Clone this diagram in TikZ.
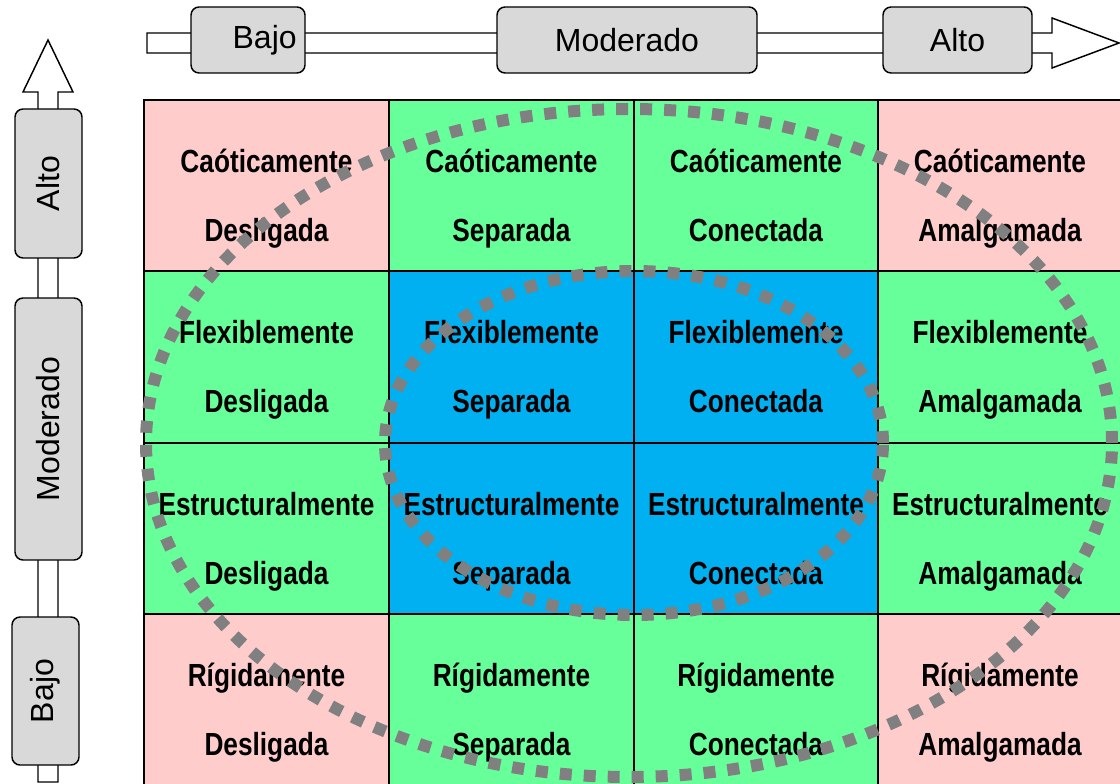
\documentclass[tikz,border=0pt]{standalone}
\usepackage{fontspec}
\setmainfont{Liberation Sans}
\newfontfamily\narrowfont[FakeStretch=0.82]{Liberation Sans}
\definecolor{pinkc}{HTML}{FFCCCC}
\definecolor{greenc}{HTML}{66FF99}
\definecolor{bluec}{HTML}{00B0F0}
\definecolor{boxgray}{HTML}{D9D9D9}
\definecolor{dotgray}{HTML}{808080}
\begin{document}
\begin{tikzpicture}[x=0.75pt,y=-0.75pt,
  cellrect/.style={draw=black,line width=1.5pt},
  celltext/.style={anchor=base,inner sep=0pt,font=\narrowfont\bfseries\fontsize{24}{28}\selectfont},
  axbar/.style={draw=black,fill=white,line width=1.1pt,line join=miter},
  axbox/.style={draw=black,fill=boxgray,line width=1.1pt,rounded corners=6pt,inner sep=0pt,font=\fontsize{24}{28}\selectfont},
  dotline/.style={draw=dotgray,line width=9pt,dash pattern=on 9pt off 9pt}]
\useasboundingbox (0,0) rectangle (1120,784);
% cells
\foreach \c/\xa/\xb/\ya/\yb in {
  pinkc/144/389/100/271, greenc/389/634/100/271, greenc/634/878/100/271, pinkc/878/1124/100/271,
  greenc/144/389/271/443, bluec/389/634/271/443, bluec/634/878/271/443, greenc/878/1124/271/443,
  greenc/144/389/443/614, bluec/389/634/443/614, bluec/634/878/443/614, greenc/878/1124/443/614,
  pinkc/144/389/614/788, greenc/389/634/614/788, greenc/634/878/614/788, pinkc/878/1124/614/788}
  {\fill[\c] (\xa,\ya) rectangle (\xb,\yb);}
\foreach \c/\xa/\xb/\ya/\yb in {
  pinkc/144/389/100/271, greenc/389/634/100/271, greenc/634/878/100/271, pinkc/878/1124/100/271,
  greenc/144/389/271/443, bluec/389/634/271/443, bluec/634/878/271/443, greenc/878/1124/271/443,
  greenc/144/389/443/614, bluec/389/634/443/614, bluec/634/878/443/614, greenc/878/1124/443/614,
  pinkc/144/389/614/788, greenc/389/634/614/788, greenc/634/878/614/788, pinkc/878/1124/614/788}
  {\draw[cellrect] (\xa,\ya) rectangle (\xb,\yb);}
% cell texts
\foreach \row/\top/\first in {0/100/Caóticamente,1/271/Flexiblemente,2/443/Estructuralmente,3/614/Rígidamente}{
  \foreach \col/\cx/\second in {0/266.5/Desligada,1/511.5/Separada,2/756/Conectada,3/1000/Amalgamada}{
    \node[celltext] (t\row\col a) at (\cx,\top+72.5) {\first};
    \node[celltext] (t\row\col b) at (\cx,\top+141.5) {\second};
  }
}
% ellipses
\draw[dotline] (629,443) ellipse [x radius=362.25pt, y radius=250.5pt];
\draw[dotline] (634,443) ellipse [x radius=186.75pt, y radius=129pt];
% top axis
\draw[axbar] (147,33) -- (1052,33) -- (1052,18) -- (1119,43) -- (1052,68) -- (1052,53) -- (147,53) -- cycle;
\node[axbox,minimum width=85.5pt,minimum height=49.5pt] (tbajo) at (248,40) {\hspace*{25pt}Bajo};
\node[axbox,minimum width=195pt,minimum height=49.5pt] (tmod) at (627,40) {Moderado};
\node[axbox,minimum width=111.75pt,minimum height=49.5pt] (talto) at (957.5,40) {Alto};
% left axis
\draw[axbar] (38,782) -- (38,92) -- (23,92) -- (48,40) -- (73,92) -- (58,92) -- (58,782) -- cycle;
\node[axbox,rotate=90,minimum width=111.75pt,minimum height=50.25pt] (lalto) at (48.5,183.5) {Alto};
\node[axbox,rotate=90,minimum width=196.5pt,minimum height=50.25pt] (lmod) at (48.5,429) {Moderado};
\node[axbox,rotate=90,minimum width=111pt,minimum height=50.25pt] (lbajo) at (45.5,691) {Bajo};
\end{tikzpicture}
\end{document}
